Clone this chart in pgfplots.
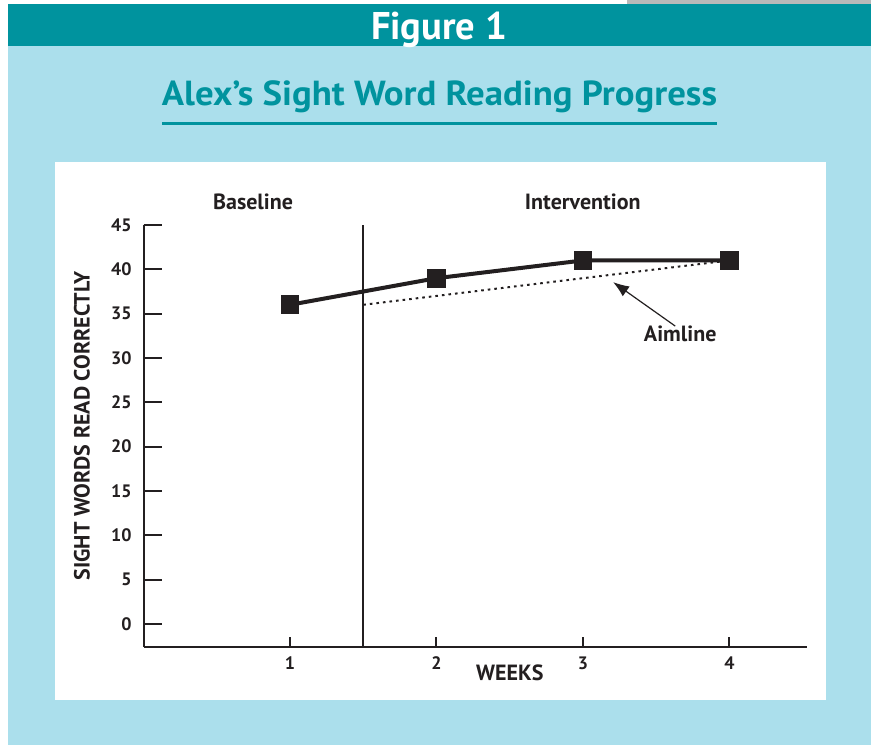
\documentclass[border=0pt]{standalone}
\usepackage{pgfplots}
\pgfplotsset{compat=1.18}
\usepackage{fontspec}
\setmainfont{PT Sans}
\usepackage{graphicx}
\usetikzlibrary{arrows.meta}
\definecolor{bgblue}{HTML}{ABDFEC}
\definecolor{teal1}{HTML}{00939E}
\definecolor{ink}{HTML}{231F20}
\begin{document}
\begin{tikzpicture}[x=0.5pt,y=0.5pt]
\fill[white] (0,0) rectangle (871,745);
\fill[bgblue] (8,0) rectangle (871,699);
\fill[teal1] (8,699) rectangle (871,741);
\fill[gray!55] (627,741) rectangle (871,745);
\fill[white] (55,45) rectangle (826,583);
\node[white, anchor=base, inner sep=0pt] at (439,705.7) {\resizebox{68pt}{\height}{\fontsize{19.3pt}{22pt}\selectfont\bfseries Figure 1}};
\node[teal1, anchor=base, inner sep=0pt] at (439.5,639) {\resizebox{277.5pt}{\height}{\fontsize{17.4pt}{20pt}\selectfont\bfseries Alex’s Sight Word Reading Progress}};
\draw[teal1, line width=1.8pt] (162,621.5) -- (717,621.5);
\begin{axis}[
  at={(71.8pt,49pt)}, anchor=south west, scale only axis,
  width=331.7pt, height=211pt,
  xmin=0, xmax=4.53, ymin=-2.6, ymax=45,
  clip=false,
  axis lines=left,
  axis line style={-, line width=1pt, ink},
  xtick={1,2,3,4}, ytick={0,5,10,15,20,25,30,35,40,45},
  xticklabels={\textbf{1},\textbf{2},\textbf{3},\textbf{4}},
  yticklabels={\textbf{0},\textbf{5},\textbf{10},\textbf{15},\textbf{20},\textbf{25},\textbf{30},\textbf{35},\textbf{40},\textbf{45}},
  tick align=inside,
  ytick style={ink, line width=1pt, /pgfplots/major tick length=9pt},
  xtick style={ink, line width=1pt, /pgfplots/major tick length=5pt},
  ticklabel style={font=\fontsize{9pt}{10pt}\selectfont\bfseries, text=ink, inner sep=0pt},
  yticklabel style={anchor=east, xshift=-5.8pt},
  xticklabel style={anchor=north, yshift=-4.5pt},
  xlabel={WEEKS},
  xlabel style={at={(axis description cs:0.552,-0.0616)}, anchor=center, font=\fontsize{11pt}{13pt}\selectfont\bfseries, text=ink},
  ylabel={SIGHT WORDS READ CORRECTLY},
  ylabel style={at={(axis description cs:-0.093,0.524)}, anchor=center, font=\fontsize{11pt}{13pt}\selectfont\bfseries, text=ink},
]
\draw[ink, line width=1pt] (axis cs:1.5,-2.6) -- (axis cs:1.5,45);
\addplot[ink, line width=1pt, dash pattern=on 1.3pt off 2pt] coordinates {(1.5,36) (4,41)};
\addplot[ink, line width=2pt, mark=square*, mark size=3.7pt, mark options={solid}] coordinates {(1,36) (2,39) (3,41) (4,41)};
\draw[ink, line width=0.6pt, -{Latex[length=8pt,width=6pt]}] (axis cs:3.63,33.6) -- (axis cs:3.206,38.56);
\node[ink, font=\fontsize{11pt}{13pt}\selectfont\bfseries] at (axis description cs:0.165,1.054) {Baseline};
\node[ink, font=\fontsize{11pt}{13pt}\selectfont\bfseries] at (axis description cs:0.662,1.054) {Intervention};
\node[ink, font=\fontsize{11pt}{13pt}\selectfont\bfseries] at (axis cs:3.664,32.7) {Aimline};
\end{axis}
\end{tikzpicture}
\end{document}
